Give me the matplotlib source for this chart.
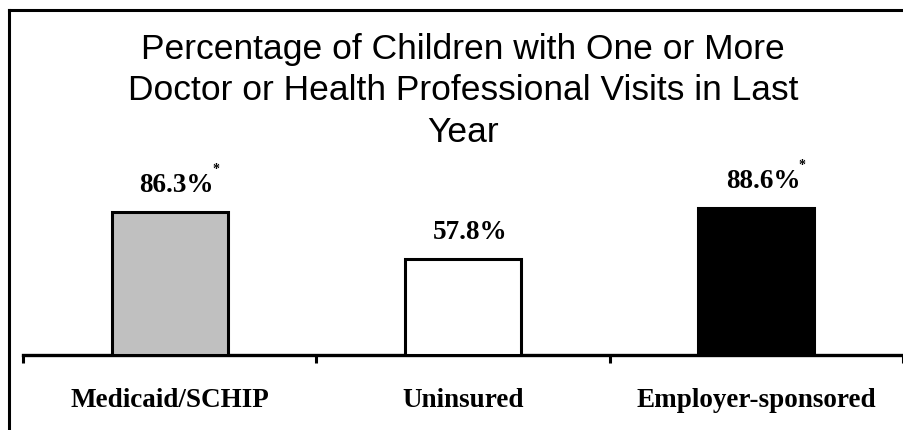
import matplotlib.pyplot as plt
from matplotlib.lines import Line2D

categories = ['Medicaid/SCHIP', 'Uninsured', 'Employer-sponsored']
values     = [86.3, 57.8, 88.6]
starred    = [True, False, True]
colors     = ['#c0c0c0', '#ffffff', '#000000']

W, H = 904, 431
fig = plt.figure(figsize=(W / 100, H / 100), dpi=100)

# axes placed in pixel terms: baseline at y=356, 0..100 spans 166 px
ax = fig.add_axes([23 / W, (H - 356) / H, 880 / W, 166 / H])
x = range(len(categories))
ax.bar(x, values, width=0.395, color=colors, edgecolor='black', linewidth=2.2, zorder=3)
ax.set_xlim(-0.5, 2.5)
ax.set_ylim(0, 100)

for s in ['left', 'right', 'top']:
    ax.spines[s].set_visible(False)
ax.spines['bottom'].set_linewidth(2.4)
ax.yaxis.set_visible(False)

ax.set_xticks(list(x))
ax.set_xticklabels(categories, fontfamily='Liberation Serif', fontweight='bold', fontsize=19.5)
ax.tick_params(axis='x', which='major', length=0, pad=23)
ax.set_xticks([-0.5, 0.5, 1.5, 2.5], minor=True)
ax.tick_params(axis='x', which='minor', length=6, width=2.2, direction='out')

for i, v in enumerate(values):
    ax.annotate(f'{v}%', (i, v), xytext=(5, 19.5), textcoords='offset points',
                ha='center', va='center', fontfamily='Liberation Serif',
                fontweight='bold', fontsize=19.5)
    if starred[i]:
        ax.annotate('*', (i, v), xytext=(33, 31), textcoords='offset points',
                    ha='center', va='center', fontfamily='Liberation Serif',
                    fontweight='bold', fontsize=10)

fig.text(463 / W, 1 - 91 / H,
         'Percentage of Children with One or More\nDoctor or Health Professional Visits in Last\nYear',
         ha='center', va='center', fontfamily='Liberation Sans', fontsize=25.5,
         linespacing=1.34)

# outer frame (left and top edges)
fig.add_artist(Line2D([9 / W, 9 / W], [0, 1 - 11 / H], color='black', linewidth=2.2))
fig.add_artist(Line2D([9 / W, 1], [1 - 11 / H, 1 - 11 / H], color='black', linewidth=2.2))

fig.savefig('out.png', dpi=100)
